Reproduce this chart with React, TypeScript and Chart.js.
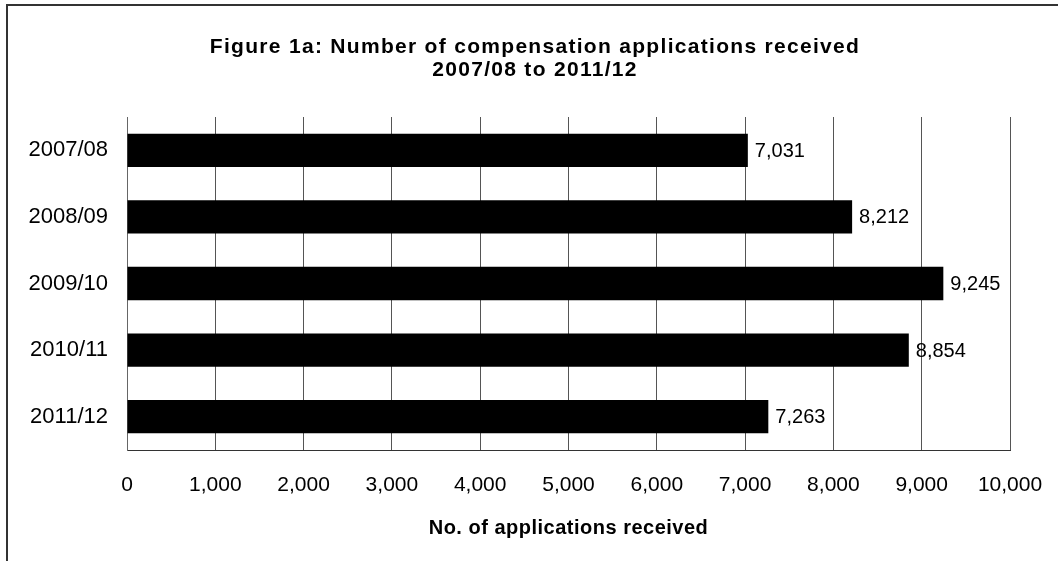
import React, { useEffect, useRef } from "react";
import { Chart, registerables } from "chart.js";

Chart.register(...registerables);

const categories = ["2007/08", "2008/09", "2009/10", "2010/11", "2011/12"];
const applications = [7031, 8212, 9245, 8854, 7263];
const titleLines = [
  "Figure 1a: Number of compensation applications received",
  "2007/08 to 2011/12",
];
const xAxisTitle = "No. of applications received";
const xMin = 0;
const xMax = 10000;
const xStep = 1000;

const FONT = "'Liberation Sans', Arial, sans-serif";
const fmt = (v: number) => v.toLocaleString("en-US");

const framePlugin = {
  id: "frameAndTitle",
  afterDraw(chart: any) {
    const ctx = chart.ctx;
    const area = chart.chartArea;
    ctx.save();
    ctx.strokeStyle = "#333333";
    ctx.lineWidth = 2;
    ctx.strokeRect(7, 5, chart.width + 20, chart.height + 20);
    ctx.fillStyle = "#000000";
    ctx.font = `bold 21px ${FONT}`;
    ctx.textAlign = "center";
    ctx.textBaseline = "middle";
    (ctx as any).letterSpacing = "1.3px";
    titleLines.forEach((line, i) => {
      ctx.fillText(line, 535, 47 + i * 23);
    });
    ctx.font = `bold 20px ${FONT}`;
    (ctx as any).letterSpacing = "0.5px";
    ctx.fillText(xAxisTitle, (area.left + area.right) / 2, 528);
    (ctx as any).letterSpacing = "0px";
    ctx.restore();
  },
};

const valueLabels = {
  id: "valueLabels",
  afterDatasetsDraw(chart: any) {
    const ctx = chart.ctx;
    ctx.save();
    ctx.fillStyle = "#000000";
    ctx.font = `20px ${FONT}`;
    ctx.textAlign = "left";
    ctx.textBaseline = "middle";
    const meta = chart.getDatasetMeta(0);
    meta.data.forEach((bar: any, i: number) => {
      ctx.fillText(fmt(applications[i]), bar.x + 7, bar.y + 1);
    });
    ctx.restore();
  },
};

export default function App() {
  const ref = useRef<HTMLCanvasElement>(null);
  useEffect(() => {
    if (!ref.current) return;
    const chart = new Chart(ref.current, {
      type: "bar",
      data: {
        labels: categories,
        datasets: [
          {
            data: applications,
            backgroundColor: "#000000",
            borderWidth: 0,
            categoryPercentage: 0.5,
            barPercentage: 1,
          },
        ],
      },
      options: {
        indexAxis: "y",
        responsive: false,
        animation: false,
        layout: { padding: { top: 117, left: 0, right: 48, bottom: 0 } },
        plugins: {
          legend: { display: false },
          title: { display: false },
          tooltip: { enabled: false },
        },
        scales: {
          x: {
            min: xMin,
            max: xMax,
            ticks: {
              stepSize: xStep,
              color: "#000000",
              font: { family: FONT, size: 21 },
              padding: 23,
              maxRotation: 0,
              callback: (v: any) => fmt(Number(v)),
            },
            grid: {
              color: "#555555",
              lineWidth: 1,
              drawTicks: false,
              tickLength: 0,
            },
            border: { color: "#333333", width: 1 },
            title: { display: false, text: xAxisTitle },
            afterFit: (scale: any) => {
              scale.height = 111;
              scale.paddingLeft = 0;
              scale.paddingRight = 0;
            },
          },
          y: {
            ticks: {
              color: "#000000",
              font: { family: FONT, size: 22 },
              padding: 19,
            },
            grid: { display: false, drawTicks: false, tickLength: 0 },
            border: { color: "#666666", width: 1 },
            afterFit: (scale: any) => {
              scale.width = 127;
              scale.paddingTop = 0;
              scale.paddingBottom = 0;
            },
          },
        },
      },
      plugins: [framePlugin, valueLabels],
    });
    return () => chart.destroy();
  }, []);
  return (
    <div style={{ position: "absolute", left: 0, top: 0, width: 1058, height: 561, background: "#ffffff" }}>
      <canvas ref={ref} width={1058} height={561} style={{ display: "block" }} />
    </div>
  );
}
